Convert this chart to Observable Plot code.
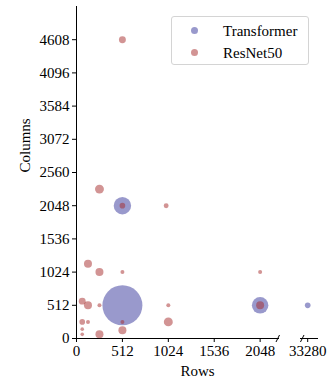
<!DOCTYPE html>
<html>
<head>
<meta charset="utf-8">
<script src="https://cdn.jsdelivr.net/npm/d3@7"></script>
<script src="https://cdn.jsdelivr.net/npm/@observablehq/plot@0.6"></script>
<style>
  html, body { margin: 0; padding: 0; background: #fff; }
  #wrap { position: relative; width: 336px; height: 383px; font-family: "Liberation Serif", "Times New Roman", serif; }
  #legend { position: absolute; left: 171px; top: 16px; width: 138px; height: 49px; border: 1px solid #d4d4d4; border-radius: 3px; background: rgba(255,255,255,0.8); box-sizing: border-box; }
  .entry { position: absolute; left: 0; height: 20px; display: flex; align-items: center; font-size: 15px; color: #000; }
  .sw { position: absolute; left: 18.5px; width: 7px; height: 7px; border-radius: 50%; }
  .lbl { position: absolute; left: 51px; white-space: nowrap; line-height: 20px; }
</style>
</head>
<body>
<div id="wrap"></div>
<script>
// Series
const seriesNames = ["Transformer", "ResNet50"];
const seriesColors = ["navy", "brown"];
const seriesOpacity = [0.4, 0.5];

// Transformer: rows, columns, count
const transformerRows = [512, 512, 2048, 33280];
const transformerCols = [512, 2048, 512, 512];
const transformerCount = [100, 19, 17, 2];

// ResNet50: rows, columns, count
const resnetRows = [512, 256, 512, 1000, 128, 256, 512, 2048, 64, 128, 256, 1024, 2048, 64, 128, 512, 1024, 64, 64, 256, 512];
const resnetCols = [4608, 2304, 2048, 2048, 1152, 1024, 1024, 1024, 576, 512, 512, 512, 512, 256, 256, 256, 256, 144, 64, 64, 128];
const resnetCount = [3, 5, 2, 1.5, 4, 4, 1, 1, 3, 4, 1, 1, 4, 2, 1, 1, 5, 0.8, 0.8, 4, 4];

// Axis ticks
const rowTicks = [0, 512, 1024, 1536, 2048, 33280];
const colTicks = [0, 512, 1024, 1536, 2048, 2560, 3072, 3584, 4096, 4608];

// Broken x axis: two visible segments
const xSegments = [[0, 2264], [33200, 33400]];
const xRangeSegments = [[76, 279], [300, 318]];
const yMax = 5120;

const transformer = transformerRows.map((r, i) => ({rows: r, cols: transformerCols[i], count: transformerCount[i]}));
const resnet = resnetRows.map((r, i) => ({rows: r, cols: resnetCols[i], count: resnetCount[i]}));
const breaks = [
  {at: xSegments[0][1], d: 39},
  {at: xSegments[1][0], d: 39}
];

const chart = Plot.plot({
  width: 336,
  height: 383,
  marginLeft: 76,
  marginRight: 18,
  marginTop: 6,
  marginBottom: 45,
  style: {fontFamily: "Liberation Serif, Times New Roman, serif", fontSize: "15px", color: "#000", background: "transparent"},
  x: {
    type: "linear",
    domain: xSegments.flat(),
    range: xRangeSegments.flat(),
    ticks: rowTicks,
    tickFormat: d => String(d),
    tickSize: 4,
    tickPadding: 3,
    label: null
  },
  y: {
    domain: [0, yMax],
    ticks: colTicks,
    tickFormat: d => String(d),
    tickSize: 4,
    tickPadding: 3,
    label: null,
    line: true
  },
  r: {type: "sqrt", domain: [0, 100], range: [0, 20]},
  marks: [
    Plot.ruleY(xSegments, {y: () => 0, x1: d => d[0], x2: d => d[1], stroke: "#000", strokeWidth: 1}),
    Plot.link(breaks, {x1: d => d.at - d.d, x2: d => d.at + d.d, y1: () => -54, y2: () => 54, stroke: "#000", strokeWidth: 1}),
    Plot.dot(transformer, {x: "rows", y: "cols", r: "count", fill: seriesColors[0], fillOpacity: seriesOpacity[0], stroke: null}),
    Plot.dot(resnet, {x: "rows", y: "cols", r: "count", fill: seriesColors[1], fillOpacity: seriesOpacity[1], stroke: null}),
    Plot.text(["Columns"], {frameAnchor: "left", dx: -51, rotate: -90, fontSize: 15, text: d => d}),
    Plot.text(["Rows"], {frameAnchor: "bottom", dy: 37, fontSize: 15, text: d => d})
  ]
});

const wrap = document.getElementById("wrap");
wrap.appendChild(chart);

const legend = document.createElement("div");
legend.id = "legend";
seriesNames.forEach((name, i) => {
  const e = document.createElement("div");
  e.className = "entry";
  e.style.top = (3.5 + i * 22.4) + "px";
  const sw = document.createElement("span");
  sw.className = "sw";
  sw.style.background = seriesColors[i];
  sw.style.opacity = seriesOpacity[i];
  const lb = document.createElement("span");
  lb.className = "lbl";
  lb.textContent = name;
  e.appendChild(sw);
  e.appendChild(lb);
  legend.appendChild(e);
});
wrap.appendChild(legend);
</script>
</body>
</html>
